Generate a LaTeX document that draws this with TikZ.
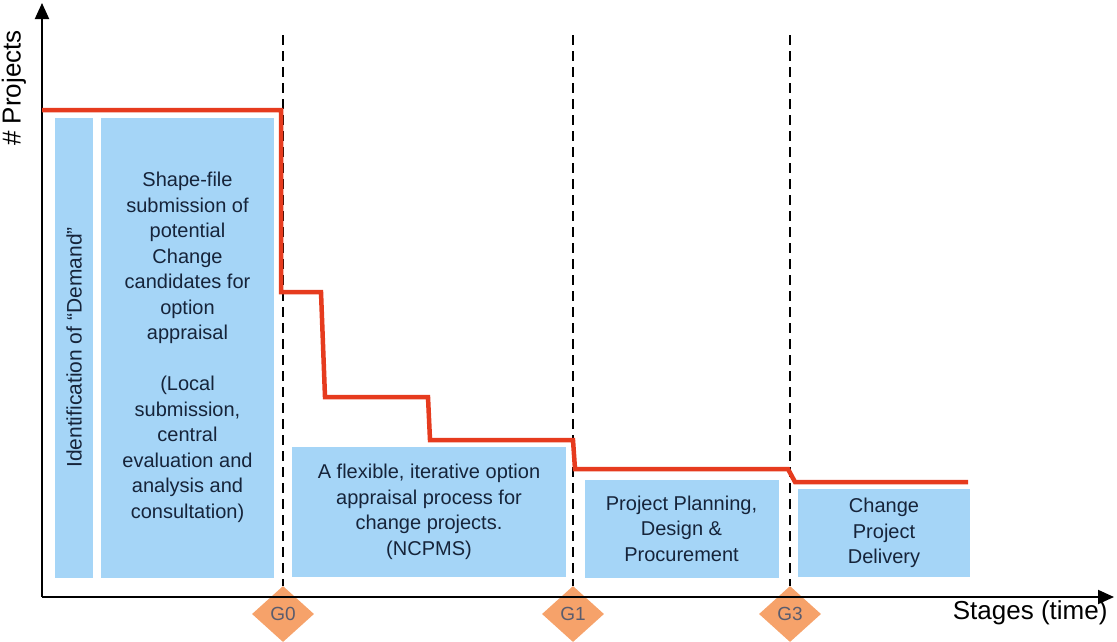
\documentclass[tikz,border=0pt]{standalone}
\usepackage{fontspec}
\setmainfont{Liberation Sans}
\usetikzlibrary{arrows.meta,shapes.geometric}
\definecolor{stageblue}{HTML}{A5D5F7}
\definecolor{gateorange}{HTML}{F6A26A}
\definecolor{flowred}{HTML}{E63B1E}
\definecolor{boxtext}{HTML}{16243A}
\definecolor{gatetext}{HTML}{5A5C6E}
\tikzset{
  stagebox/.style={fill=stageblue, draw=none, inner sep=0pt, align=center,
    text=boxtext, font=\fontsize{20}{25.5}\selectfont},
  gate/.style={diamond, fill=gateorange, draw=none, minimum width=62pt,
    minimum height=56pt, inner sep=0pt, text=gatetext, font=\fontsize{19}{20}\selectfont},
  gateline/.style={dashed, dash pattern=on 10pt off 6pt, line width=2pt},
  axis/.style={line width=2pt, -{Triangle[length=16pt,width=14pt]}},
  flow/.style={flowred, line width=4.5pt, line join=miter},
  axislabel/.style={font=\fontsize{26}{28}\selectfont},
}
\begin{document}
\begin{tikzpicture}[x=1pt,y=-1pt]
\useasboundingbox (0,0) rectangle (1117,641);

% stage boxes
\node[stagebox, minimum width=38pt, minimum height=460pt] (demand) at (74,347.5)
  {\rotatebox{90}{\fontsize{21}{24}\selectfont Identification of “Demand”}};
\node[stagebox, minimum width=173pt, minimum height=460pt] (shape) at (187.5,347.5)
  {Shape-file\\submission of\\potential\\Change\\candidates for\\option\\appraisal\\[25.5pt](Local\\submission,\\central\\evaluation and\\analysis and\\consultation)};
\node[stagebox, minimum width=274pt, minimum height=130pt] (ncpms) at (429,512)
  {A flexible, iterative option\\appraisal process for\\change projects.\\(NCPMS)};
\node[stagebox, minimum width=194pt, minimum height=98pt] (plan) at (681.5,528.5)
  {Project Planning,\\Design \&\\Procurement};
\node[stagebox, minimum width=172pt, minimum height=88pt] (deliver) at (884,533)
  {Change\\Project\\Delivery};

% gates
\node[gate] (g0) at (283,614) {G0};
\node[gate] (g1) at (573,614) {G1};
\node[gate] (g3) at (790,614) {G3};
\coordinate (g0top) at (283,35);
\coordinate (g1top) at (573,35);
\coordinate (g3top) at (790,35);
\draw[gateline] (g0top) -- (g0.north);
\draw[gateline] (g1top) -- (g1.north);
\draw[gateline] (g3top) -- (g3.north);

% axes
\coordinate (origin) at (42,597);
\coordinate (ytip) at (42,3);
\coordinate (xtip) at (1114,597);
\draw[axis] (origin) -- (ytip);
\draw[axis] (origin) -- (xtip);
\node[rotate=90, axislabel] (ylabel) at (14,88) {\# Projects};
\node[anchor=east, axislabel] (xlabel) at (1111,613) {Stages (time)};

% number of projects through the stages
\draw[flow] (42,110) -- (281,110) -- (281,292) -- (321,292) -- (325,397)
  -- (428,397) -- (430,440) -- (573,440) -- (575,469) -- (788,469)
  -- (795,482) -- (968,482);
\end{tikzpicture}
\end{document}
